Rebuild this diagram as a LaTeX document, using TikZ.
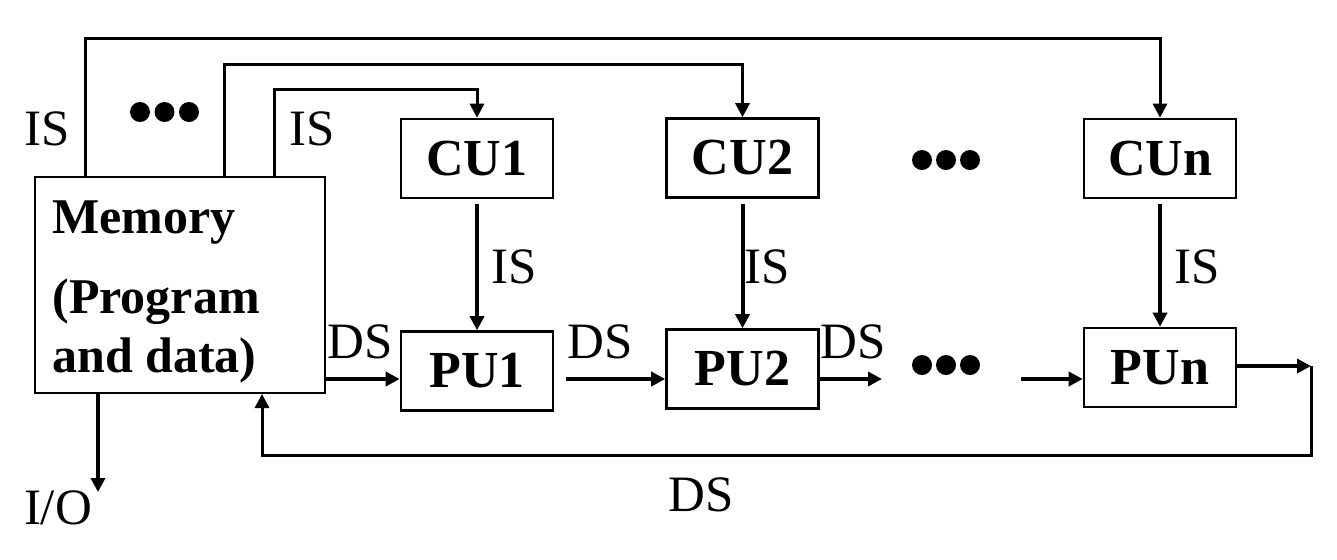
\documentclass[tikz,border=0pt]{standalone}
\usepackage{fontspec}
\setmainfont{Liberation Serif}
\usetikzlibrary{arrows.meta}
\begin{document}
\begin{tikzpicture}[x=0.5pt,y=-0.5pt,
  unitbox/.style={draw,line width=1.3pt,minimum width=76pt,minimum height=39.5pt,inner sep=0pt,font=\fontsize{26}{30}\selectfont\bfseries},
  memtext/.style={anchor=base west,inner sep=0pt,font=\fontsize{25}{28}\selectfont\bfseries},
  lbl/.style={anchor=base,inner sep=0pt,font=\fontsize{25.5}{30}\selectfont},
  sig/.style={line width=2pt,-{Triangle[length=7pt,width=7pt]}},
  bus/.style={line width=1.5pt},
  busarrow/.style={line width=1.5pt,-{Triangle[length=7pt,width=7pt]}},
  dot/.style={fill=black}
]
\useasboundingbox[fill=white] (0,0) rectangle (1337,559);
% boxes
\node[draw,line width=1.3pt,minimum width=145pt,minimum height=108pt,inner sep=0pt] (mem) at (180,285) {};
\node[memtext] (m1) at (52,233) {Memory};
\node[memtext] (m2) at (52,313) {(Program};
\node[memtext] (m3) at (52,372) {and data)};
\node[unitbox] (cu1) at (477,158.5) {CU1};
\node[unitbox] (cu2) at (742.5,158) {CU2};
\node[unitbox] (cun) at (1160,158.5) {CUn};
\node[unitbox] (pu1) at (477,371) {PU1};
\node[unitbox] (pu2) at (742.5,369) {PU2};
\node[unitbox] (pun) at (1160,367.5) {PUn};
% coordinates
\coordinate (b1) at (85,177);
\coordinate (b2) at (224,177);
\coordinate (b3) at (274,177);
\coordinate (d1s) at (566,379);
\coordinate (d2s) at (818,379);
\coordinate (d2e) at (882,379);
\coordinate (d3s) at (1021,379);
\coordinate (rr) at (1311,366);
\coordinate (fb) at (262,394);
\coordinate (io) at (98,394);
\coordinate (ioe) at (98,492);
% instruction buses
\draw[busarrow] (b1) -- (85,38) -| (cun.north);
\draw[busarrow] (b2) -- (224,64) -| (cu2.north);
\draw[busarrow] (b3) -- (274,89) -| (cu1.north);
% CU -> PU
\draw[sig,shorten <=2.5pt] (cu1.south) -- (pu1.north);
\draw[sig,shorten <=2.5pt] (cu2.south) -- (pu2.north);
\draw[sig,shorten <=2.5pt] (cun.south) -- (pun.north);
% data stream
\draw[sig] (mem.east |- d1s) -- (pu1.west |- d1s);
\draw[sig] (d1s) -- (pu2.west |- d1s);
\draw[sig] (d2s) -- (d2e);
\draw[sig] (d3s) -- (pun.west |- d3s);
\draw[sig] (pun.east |- rr) -- (rr);
\draw[bus,-{Triangle[length=7pt,width=7pt]}] (rr) -- (1311,455) -| (fb);
\draw[sig] (io) -- (ioe);
% labels
\node[lbl] (is0) at (47,145) {IS};
\node[lbl] (is00) at (312,145) {IS};
\node[lbl] (is1) at (514,283) {IS};
\node[lbl] (is2) at (767,283) {IS};
\node[lbl] (is3) at (1197,283) {IS};
\node[lbl] (ds0) at (360,358) {DS};
\node[lbl] (ds1) at (600,358) {DS};
\node[lbl] (ds2) at (853,358) {DS};
\node[lbl] (ds3) at (701,511) {DS};
\node[lbl] (iol) at (58,524) {I/O};
% dots
\foreach \x in {140,164.5,189} \fill[dot] (\x,112) circle (10);
\foreach \x in {922,946,970} \fill[dot] (\x,160) circle (10);
\foreach \x in {922,946,970} \fill[dot] (\x,365) circle (10);
\end{tikzpicture}
\end{document}
